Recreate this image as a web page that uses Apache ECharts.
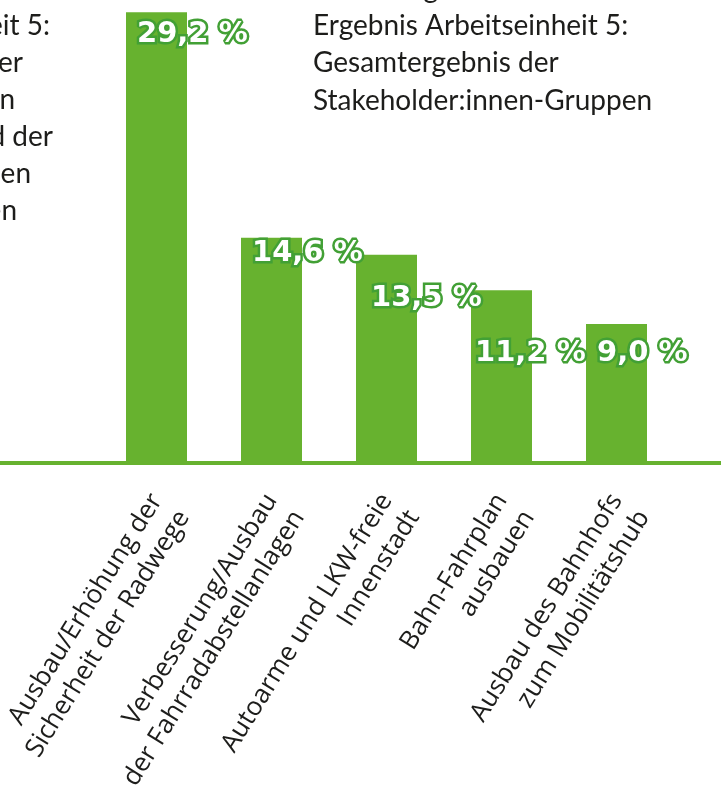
<!DOCTYPE html>
<html>
<head>
<meta charset="utf-8">
<script src="https://cdn.jsdelivr.net/npm/echarts@6/dist/echarts.min.js"></script>
<style>
  html, body { margin: 0; padding: 0; background: #fff; }
  #chart { width: 721px; height: 794px; }
</style>
</head>
<body>
<div id="chart"></div>
<script>
const categories = [
  "Ausbau/Erhöhung der\nSicherheit der Radwege",
  "Verbesserung/Ausbau\nder Fahrradabstellanlagen",
  "Autoarme und LKW-freie\nInnenstadt",
  "Bahn-Fahrplan\nausbauen",
  "Ausbau des Bahnhofs\nzum Mobilitätshub",
];
const values = [29.2, 14.6, 13.5, 11.2, 9.0];

// text block on the right (first line is mostly cut off at the top)
const titleLines = ["Abbildung", "Ergebnis Arbeitseinheit 5:", "Gesamtergebnis der", "Stakeholder:innen-Gruppen"];
// neighbouring text, cut off at the left edge
const leftFragments = ["eit 5:", "er", "n", "d der", "en", "en"];

// hand placed value labels, relative to top-left of each bar
const labelPos = [[11, 22], [11, 16], [15, 44], [4, 63], [11, 29]];
const leftEnds = [50, 23, 15, 53, 31, 17];

const GREEN = "#67b22f";
const STROKE = "#42a035";
const TEXT = "#1d1d1b";

const graphics = [];
titleLines.forEach((t, i) => {
  graphics.push({
    type: "text",
    x: 313,
    y: -2.3 + 37.3 * i - 9,
    style: {
      text: t,
      font: "28px Lato",
      fill: TEXT,
      textAlign: "left",
      textVerticalAlign: "middle",
    },
  });
});
leftFragments.forEach((t, i) => {
  graphics.push({
    type: "text",
    x: leftEnds[i],
    y: 35 + 37 * i - 9,
    style: {
      text: t,
      font: "28px Lato",
      fill: TEXT,
      textAlign: "right",
      textVerticalAlign: "middle",
    },
  });
});

const option = {
  animation: false,
  backgroundColor: "#fff",
  grid: [
    { left: 99, right: 47, top: 0, bottom: 331, outerBoundsMode: "none", containLabel: false },
    // full width grid, only used for the long base line
    { left: 0, right: 0, top: 0, bottom: 331, outerBoundsMode: "none", containLabel: false },
  ],
  xAxis: [
    {
      type: "category",
      data: categories,
      gridIndex: 0,
      axisLine: { show: false },
      axisTick: { show: false },
      axisLabel: {
        interval: 0,
        rotate: 58,
        margin: 33,
        verticalAlign: "middle",
        // empty first line pushes the two text lines below the tick point
        formatter: (v) => "\n" + v,
        color: TEXT,
        fontFamily: "'Open Sans'",
        fontSize: 26,
        lineHeight: 32,
      },
    },
    {
      type: "value",
      gridIndex: 1,
      min: 0,
      max: 1,
      axisLine: { show: true, lineStyle: { color: GREEN, width: 4 } },
      axisTick: { show: false },
      axisLabel: { show: false },
      splitLine: { show: false },
    },
  ],
  yAxis: [
    { type: "value", gridIndex: 0, min: 0, max: 30, show: false },
    { type: "value", gridIndex: 1, min: 0, max: 1, show: false },
  ],
  graphic: graphics,
  series: [
    {
      type: "bar",
      xAxisIndex: 0,
      yAxisIndex: 0,
      barWidth: 61,
      itemStyle: { color: GREEN },
      data: values.map((v, i) => ({ value: v, label: { position: labelPos[i] } })),
      label: {
        show: true,
        align: "left",
        verticalAlign: "middle",
        formatter: (p) => p.value.toFixed(1).replace(".", ",") + " %",
        color: "#fff",
        fontFamily: "'DejaVu Sans'",
        fontWeight: "bold",
        fontSize: 29,
        textBorderColor: STROKE,
        textBorderWidth: 5,
      },
    },
  ],
};

const myChart = echarts.init(document.getElementById("chart"));
myChart.setOption(option);
</script>
</body>
</html>
